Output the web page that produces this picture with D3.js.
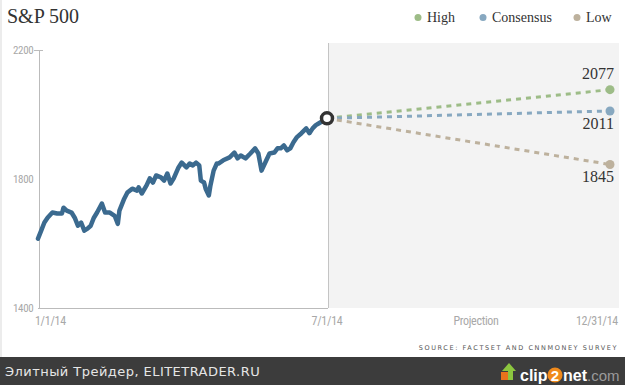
<html>
  <head>
    <meta charset="utf-8">
  </head>
  <body style="margin:0;background:#fff;">
    <style>
      .axis path, .axis line {
        stroke: #bbbbbb;
        shape-rendering: crispEdges;
      }
      .axis text {
        fill: #a8a8a8;
        font-family: "Liberation Sans Narrow", "Roboto", sans-serif;
        font-stretch: condensed;
        font-size: 11px;
        letter-spacing: -0.3px;
      }
      .xlab {
        fill: #a8a8a8;
        font-family: "Liberation Sans Narrow", "Roboto", sans-serif;
        font-stretch: condensed;
        font-size: 12px;
        letter-spacing: -0.3px;
      }
      .serif {
        font-family: "Liberation Serif", "DejaVu Serif", serif;
        fill: #333333;
      }
    </style>
    <script src="https://cdn.jsdelivr.net/npm/d3@7"></script>
    <script type="text/javascript">
      // S&P 500 closes
      var dates = [
        "2014-01-01","2014-01-03","2014-01-05","2014-01-07","2014-01-10","2014-01-13","2014-01-16","2014-01-17",
        "2014-01-19","2014-01-22","2014-01-24","2014-01-26","2014-01-28","2014-01-30","2014-02-01","2014-02-03",
        "2014-02-05","2014-02-07","2014-02-10","2014-02-12","2014-02-15","2014-02-18","2014-02-20","2014-02-21",
        "2014-02-24","2014-02-26","2014-03-01","2014-03-04","2014-03-05","2014-03-07","2014-03-10","2014-03-12",
        "2014-03-14","2014-03-16","2014-03-19","2014-03-21","2014-03-23","2014-03-25","2014-03-27","2014-03-30",
        "2014-04-01","2014-04-04","2014-04-06","2014-04-08","2014-04-10","2014-04-12","2014-04-13","2014-04-15",
        "2014-04-16","2014-04-18","2014-04-19","2014-04-21","2014-04-23","2014-04-24","2014-04-27","2014-05-01",
        "2014-05-04","2014-05-06","2014-05-08","2014-05-11","2014-05-14","2014-05-17","2014-05-19","2014-05-21",
        "2014-05-24","2014-05-26","2014-05-29","2014-05-31","2014-06-02","2014-06-04","2014-06-06","2014-06-08",
        "2014-06-10","2014-06-12","2014-06-15","2014-06-18","2014-06-20","2014-06-22","2014-06-24","2014-06-26",
        "2014-07-01"
      ];
      var closes = [
        1615,1640,1665,1680,1696,1693,1693,1711,
        1702,1696,1680,1655,1665,1640,1646,1655,
        1680,1696,1724,1696,1696,1686,1661,1702,
        1739,1758,1770,1764,1774,1755,1780,1802,
        1789,1811,1805,1795,1817,1786,1802,1836,
        1851,1836,1848,1842,1851,1842,1795,1789,
        1770,1749,1780,1826,1848,1848,1858,1867,
        1882,1864,1873,1864,1879,1895,1879,1826,
        1858,1879,1882,1895,1895,1904,1889,1895,
        1914,1929,1942,1957,1942,1957,1967,1973,
        1988
      ];

      var projNames = ["High", "Consensus", "Low"];
      var projValues = [2077, 2011, 1845];
      var projColors = ["#9dbc87", "#87a8c0", "#bdb19d"];
      var projEnd = "2014-12-31";

      var yTicks = [1400, 1800, 2200];
      var xLabels = ["1/1/14", "7/1/14", "Projection", "12/31/14"];

      function autorun() {
        var parse = d3.timeParse("%Y-%m-%d");
        var data = dates.map(function(d, i) { return {date: parse(d), close: closes[i]}; });
        var last = data[data.length - 1];

        var svg = d3.select("body").append("svg")
          .attr("width", 625)
          .attr("height", 385)
          .style("display", "block");

        svg.append("rect").attr("width", 625).attr("height", 385).attr("fill", "#ffffff");
        svg.append("rect").attr("x", 0).attr("y", 0).attr("width", 2).attr("height", 357).attr("fill", "#ececec");

        var x = d3.scaleTime()
          .domain([parse("2014-01-01"), parse("2014-07-01"), parse(projEnd)])
          .range([38, 327, 610]);

        var y = d3.scaleLinear()
          .domain([1400, 2200])
          .range([308, 50]);

        // projection panel
        svg.append("rect")
          .attr("x", 328).attr("y", 43)
          .attr("width", 291).attr("height", 265)
          .attr("fill", "#f3f3f3");

        svg.append("line")
          .attr("x1", 328.5).attr("x2", 328.5)
          .attr("y1", 43).attr("y2", 308)
          .attr("stroke", "#c4c4c4");

        // y axis
        svg.append("g")
          .attr("class", "axis")
          .attr("transform", "translate(38.5,0)")
          .call(d3.axisLeft(y)
            .tickValues(yTicks)
            .tickFormat(d3.format("d"))
            .tickSizeInner(0)
            .tickSizeOuter(0)
            .tickPadding(5)
          );

        svg.append("line")
          .attr("x1", 34).attr("x2", 43)
          .attr("y1", 50.5).attr("y2", 50.5)
          .attr("stroke", "#bbbbbb");

        // bottom line of the history panel
        svg.append("line")
          .attr("x1", 38).attr("x2", 328)
          .attr("y1", 308.5).attr("y2", 308.5)
          .attr("stroke", "#bbbbbb");

        // x labels
        var projMid = (x(parse("2014-07-01")) + 619) / 2;
        var xl = [
          {t: xLabels[0], x: x(parse("2014-01-01")) - 3, a: "start"},
          {t: xLabels[1], x: x(parse("2014-07-01")), a: "middle"},
          {t: xLabels[2], x: projMid + 3, a: "middle"},
          {t: xLabels[3], x: x(parse(projEnd)) + 8, a: "end"}
        ];
        svg.selectAll(".xlab").data(xl).enter().append("text")
          .attr("class", "xlab")
          .attr("x", function(d) { return d.x; })
          .attr("y", 325)
          .attr("text-anchor", function(d) { return d.a; })
          .text(function(d) { return d.t; });

        // projections
        projValues.forEach(function(v, i) {
          svg.append("line")
            .attr("x1", x(last.date)).attr("y1", y(last.close))
            .attr("x2", x(parse(projEnd))).attr("y2", y(v))
            .attr("stroke", projColors[i])
            .attr("stroke-width", 3)
            .attr("stroke-dasharray", "5,5")
            .attr("stroke-linecap", "butt");
          svg.append("circle")
            .attr("cx", x(parse(projEnd))).attr("cy", y(v))
            .attr("r", 4.5)
            .attr("fill", projColors[i]);
          svg.append("text")
            .attr("class", "serif")
            .attr("x", x(parse(projEnd)) + 4)
            .attr("y", i == 0 ? y(v) - 11 : y(v) + 18)
            .attr("text-anchor", "end")
            .attr("font-size", "16px")
            .text(v);
        });

        // history line
        var valueline = d3.line()
          .x(function(d) { return x(d.date); })
          .y(function(d) { return y(d.close); });

        svg.append("path")
          .datum(data)
          .attr("fill", "none")
          .attr("stroke", "#3b6a8f")
          .attr("stroke-width", 4.5)
          .attr("stroke-linejoin", "round")
          .attr("stroke-linecap", "round")
          .attr("d", valueline);

        svg.append("circle")
          .attr("cx", x(last.date)).attr("cy", y(last.close))
          .attr("r", 5.5)
          .attr("fill", "#ffffff")
          .attr("stroke", "#333333")
          .attr("stroke-width", 3.5);

        // title
        svg.append("text")
          .attr("class", "serif")
          .attr("x", 7).attr("y", 23)
          .attr("font-size", "20px")
          .attr("fill", "#444444")
          .text("S&P 500");

        // legend
        var legX = [418, 483, 577];
        projNames.forEach(function(n, i) {
          svg.append("circle")
            .attr("cx", legX[i]).attr("cy", 17.5)
            .attr("r", 3.5)
            .attr("fill", projColors[i]);
          svg.append("text")
            .attr("class", "serif")
            .attr("x", legX[i] + 9).attr("y", 22)
            .attr("font-size", "14px")
            .text(n);
        });

        // source
        svg.append("text")
          .attr("x", 618).attr("y", 350)
          .attr("text-anchor", "end")
          .attr("font-family", "DejaVu Sans, sans-serif")
          .attr("font-size", "6.5px")
          .attr("letter-spacing", "1.6px")
          .attr("fill", "#555555")
          .text("SOURCE: FACTSET AND CNNMONEY SURVEY");

        // footer bar
        svg.append("rect")
          .attr("x", 0).attr("y", 357)
          .attr("width", 625).attr("height", 28)
          .attr("fill", "#3c3c3c");

        svg.append("text")
          .attr("x", 5).attr("y", 376)
          .attr("font-family", "DejaVu Sans, sans-serif")
          .attr("font-size", "13px")
          .attr("letter-spacing", "0.45px")
          .attr("fill", "#e6e6e6")
          .text("Элитный Трейдер, ELITETRADER.RU");

        // clip2net logo
        var logo = svg.append("g").attr("transform", "translate(500,362)");
        logo.append("rect").attr("x", 1).attr("y", 10).attr("width", 11).attr("height", 8).attr("fill", "#e8731c");
        logo.append("path").attr("d", "M2,9 L9,1 L16,9 L13,9 L13,18 L8,18 L8,9 Z").attr("fill", "#8cc63f");
        var logoFont = "Liberation Sans, Arial, sans-serif";
        logo.append("text").attr("x", 20).attr("y", 19)
          .attr("font-family", logoFont).attr("font-weight", "bold").attr("font-size", "16px")
          .attr("fill", "#ffffff").text("clip");
        logo.append("circle").attr("cx", 55).attr("cy", 13).attr("r", 7.5).attr("fill", "#f08a1c");
        logo.append("text").attr("x", 55).attr("y", 18.5).attr("text-anchor", "middle")
          .attr("font-family", logoFont).attr("font-weight", "bold").attr("font-size", "15px")
          .attr("fill", "#ffffff").text("2");
        logo.append("text").attr("x", 63).attr("y", 19)
          .attr("font-family", logoFont).attr("font-weight", "bold").attr("font-size", "16px")
          .attr("fill", "#ffffff").text("net");
        logo.append("text").attr("x", 87).attr("y", 19)
          .attr("font-family", logoFont).attr("font-size", "15px")
          .attr("fill", "#9a9a9a").text(".com");
      }
      if (window.addEventListener) window.addEventListener("load", autorun, false);
      else window.onload = autorun;
    </script>
  </body>
</html>
